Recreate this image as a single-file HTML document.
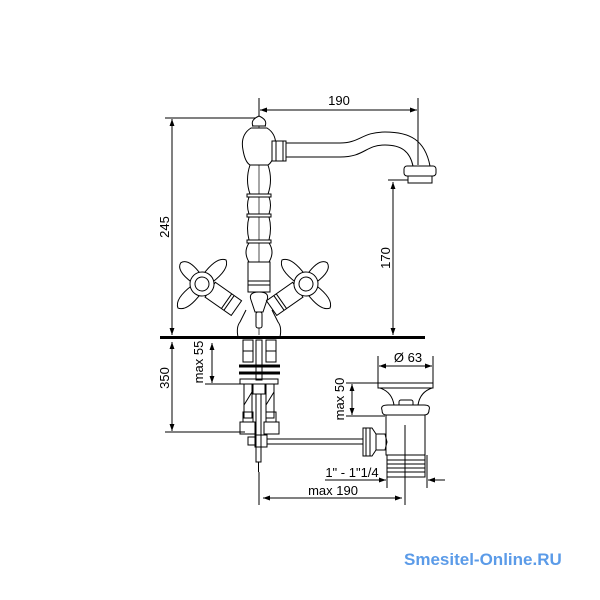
<!DOCTYPE html>
<html><head><style>body{margin:0;background:#fff}svg{display:block}</style></head><body>
<svg width="600" height="600" viewBox="0 0 600 600" xmlns="http://www.w3.org/2000/svg" font-family="Liberation Sans, sans-serif">
<defs>
<marker id="a" viewBox="0 0 10 10" refX="10" refY="5" markerWidth="7" markerHeight="7" orient="auto-start-reverse"><path d="M0,1.5L10,5L0,8.5z" fill="#000"/></marker>
</defs>
<g stroke="#000" fill="none" stroke-width="1">
<line x1="259" y1="98" x2="259" y2="124"/>
<line x1="418" y1="98" x2="418" y2="165"/>
<line x1="260" y1="110" x2="417" y2="110" marker-start="url(#a)" marker-end="url(#a)"/>
<line x1="165" y1="118" x2="258" y2="118"/>
<line x1="172" y1="119" x2="172" y2="335" marker-start="url(#a)" marker-end="url(#a)"/>
<line x1="388" y1="180" x2="432" y2="180"/>
<line x1="393" y1="182" x2="393" y2="335" marker-start="url(#a)" marker-end="url(#a)"/>
<line x1="160" y1="337.5" x2="425" y2="337.5" stroke-width="3"/>
<line x1="172" y1="342" x2="172" y2="431" marker-start="url(#a)" marker-end="url(#a)"/>
<line x1="165" y1="432" x2="245" y2="432"/>
<line x1="212" y1="343" x2="212" y2="383" marker-start="url(#a)" marker-end="url(#a)"/>
<line x1="205" y1="384" x2="245" y2="384"/>
<line x1="259" y1="112" x2="259" y2="335" stroke-width="0.7"/>
<path d="M253,126 Q250,120 259,116 Q268,120 265,126 Z" fill="#fff"/>
<line x1="252" y1="126" x2="266" y2="126"/>
<path d="M251,128 Q240,135 243,150 Q245,162 250,165 L268,165 Q273,162 275,150 Q278,135 267,128 Z" fill="#fff"/>
<rect x="272" y="141" width="14" height="20" fill="#fff"/>
<line x1="276" y1="141" x2="276" y2="161"/><line x1="283" y1="141" x2="283" y2="161"/>
<path d="M286,143 L340,143 C360,143 362,132 385,132 C410,132 425,140 430,166" />
<path d="M286,157 L340,157 C365,157 365,145 385,145 C402,145 410,152 413,166"/>
<rect x="404" y="166" width="32" height="10" rx="3" fill="#fff"/>
<rect x="408" y="176" width="24" height="7" fill="#fff"/>
<path d="M250,165 Q245,180 250,194 L268,194 Q273,180 268,165"/>
<rect x="247" y="194" width="24" height="3" fill="#fff"/>
<path d="M249,197 Q246,205 249,214 L269,214 Q272,205 269,197"/>
<rect x="247" y="214" width="24" height="3" fill="#fff"/>
<path d="M249,217 Q246,228 249,240 L269,240 Q272,228 269,217"/>
<rect x="247" y="240" width="24" height="3" fill="#fff"/>
<path d="M249,243 Q243,252 249,262 L269,262 Q275,252 269,243"/>
<rect x="248" y="262" width="22" height="30" fill="#fff"/>
<line x1="248" y1="281" x2="270" y2="281"/><line x1="248" y1="285" x2="270" y2="285"/>
<path d="M251,300 Q248,292 259,292 Q270,292 267,300 L263,312 L255,312 Z" fill="#fff"/>
<rect x="256" y="312" width="6" height="16" rx="2" fill="#fff"/>
<path d="M238,337 Q236,327 240,322 L246,310"/>
<path d="M280,337 Q282,327 278,322 L272,310"/>
<g transform="translate(202,284) rotate(35)">
<rect x="10" y="-9" width="32" height="18" fill="#fff"/>
<line x1="30" y1="-9" x2="30" y2="9"/><line x1="33" y1="-9" x2="33" y2="9"/>
<g transform="rotate(10)">
<path d="M-6,-8 Q-9,-30 0,-34 Q9,-30 6,-8 Z" fill="#fff"/>
<path d="M-6,8 Q-9,30 0,34 Q9,30 6,8 Z" fill="#fff"/>
<path d="M-8,-6 Q-28,-9 -30,0 Q-28,9 -8,6 Z" fill="#fff"/>
</g>
<circle r="12" fill="#fff"/><circle r="7"/>
</g>
<g transform="translate(306,284) rotate(-35) scale(-1,1)">
<rect x="10" y="-9" width="32" height="18" fill="#fff"/>
<line x1="30" y1="-9" x2="30" y2="9"/><line x1="33" y1="-9" x2="33" y2="9"/>
<g transform="rotate(10)">
<path d="M-6,-8 Q-9,-30 0,-34 Q9,-30 6,-8 Z" fill="#fff"/>
<path d="M-6,8 Q-9,30 0,34 Q9,30 6,8 Z" fill="#fff"/>
<path d="M-8,-6 Q-28,-9 -30,0 Q-28,9 -8,6 Z" fill="#fff"/>
</g>
<circle r="12" fill="#fff"/><circle r="7"/>
</g>
<rect x="243" y="340" width="10" height="22"/><rect x="266" y="340" width="10" height="22"/>
<line x1="243" y1="351" x2="253" y2="351"/><line x1="266" y1="351" x2="276" y2="351"/>
<rect x="256" y="340" width="6" height="40"/>
<line x1="239" y1="366" x2="280" y2="366" stroke-width="3"/>
<line x1="239" y1="373" x2="280" y2="373" stroke-width="3"/>
<rect x="240" y="379" width="38" height="5"/>
<rect x="244" y="384" width="8" height="34"/><rect x="266" y="384" width="8" height="34"/>
<line x1="244" y1="405" x2="252" y2="392"/><line x1="266" y1="405" x2="274" y2="392"/>
<rect x="253" y="384" width="12" height="10"/>
<rect x="243" y="412" width="10" height="10"/><rect x="266" y="412" width="10" height="10"/>
<rect x="240" y="422" width="15" height="12"/><rect x="264" y="422" width="15" height="12"/>
<rect x="256" y="394" width="5" height="68"/>
<line x1="258.5" y1="462" x2="258.5" y2="472"/>
<rect x="248" y="437" width="8" height="8"/><rect x="255" y="435" width="12" height="12"/>
<line x1="267" y1="439" x2="365" y2="439"/><line x1="267" y1="444" x2="365" y2="444"/>
<path d="M363,428 L372,428 L376,434 L376,450 L372,456 L363,456 Z" fill="#fff"/>
<line x1="366" y1="428" x2="366" y2="456"/><line x1="370" y1="428" x2="370" y2="456"/>
<path d="M376,434 L385,434 L387,442 L385,450 L376,450"/>
<line x1="378" y1="356" x2="378" y2="383"/><line x1="433" y1="356" x2="433" y2="383"/>
<line x1="379" y1="366" x2="432" y2="366" marker-start="url(#a)" marker-end="url(#a)"/>
<rect x="378" y="383" width="55" height="5" fill="#fff"/>
<path d="M380,388 Q392,392 394,405 L418,405 Q420,392 432,388"/>
<rect x="399" y="400" width="14" height="8" rx="2"/>
<path d="M382,410 Q380,405 388,405 L424,405 Q431,405 429,410 Q429,415 424,415 L386,415 Q382,415 382,410 Z" fill="#fff"/>
<path d="M386,415 L386,455 L425,455 L425,415"/>
<rect x="387" y="455" width="38" height="22"/>
<line x1="387" y1="460" x2="425" y2="460"/><line x1="387" y1="464" x2="425" y2="464"/><line x1="387" y1="468" x2="425" y2="468"/><line x1="387" y1="472" x2="425" y2="472"/>
<line x1="405" y1="425" x2="405" y2="505"/>
<line x1="387" y1="477" x2="387" y2="488"/><line x1="427" y1="455" x2="427" y2="488"/>
<line x1="346" y1="383" x2="378" y2="383"/><line x1="346" y1="416" x2="385" y2="416"/>
<line x1="352" y1="384" x2="352" y2="415" marker-start="url(#a)" marker-end="url(#a)"/>
<line x1="325" y1="480" x2="386" y2="480" marker-end="url(#a)"/>
<line x1="445" y1="480" x2="428" y2="480" marker-end="url(#a)"/>
<line x1="259" y1="472" x2="259" y2="505"/>
<line x1="263" y1="498" x2="402" y2="498" marker-start="url(#a)" marker-end="url(#a)"/>
</g>
<g font-size="13" fill="#000" text-anchor="middle">
<text x="339" y="105">190</text>
<text transform="translate(169,227) rotate(-90)">245</text>
<text transform="translate(390,258) rotate(-90)">170</text>
<text transform="translate(169,378) rotate(-90)">350</text>
<text transform="translate(203,362) rotate(-90)">max 55</text>
<text transform="translate(344,399) rotate(-90)">max 50</text>
<text x="408" y="362">Ø 63</text>
<text x="352" y="477">1" - 1"1/4</text>
<text x="333" y="495">max 190</text>
</g>
<text x="404" y="565" font-size="17" font-weight="bold" fill="#5b9be8">Smesitel-Online.RU</text>
</svg>
</body></html>
